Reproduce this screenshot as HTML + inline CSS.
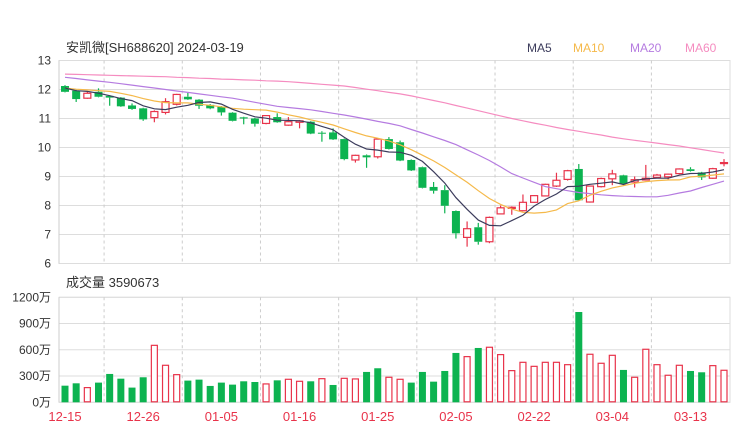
<!DOCTYPE html>
<html><head><meta charset="utf-8"><style>
body{margin:0;background:#fff;}
svg{display:block;font-family:"Liberation Sans","Noto Sans CJK SC",sans-serif;}
</style></head><body>
<svg id="c" width="740" height="440" xmlns="http://www.w3.org/2000/svg">
<text x="66" y="52" font-size="13" fill="#333">安凯微[SH688620] 2024-03-19</text>
<g font-size="12">
<text x="527" y="52" fill="#3c3c5c">MA5</text>
<text x="573" y="52" fill="#f5b94a">MA10</text>
<text x="630" y="52" fill="#b57be0">MA20</text>
<text x="685" y="52" fill="#f58cc0">MA60</text>
</g>
<text x="66" y="287" font-size="13" fill="#333">成交量 3590673</text>
</svg>
<script>
const dates=["12-15","12-26","01-05","01-16","01-25","02-05","02-22","03-04","03-13"];
const dateIdx=[0,7,14,21,28,35,42,49,56];
const opens=[12.12,11.96,11.70,11.92,11.78,11.72,11.45,11.35,11.03,11.21,11.49,11.75,11.65,11.47,11.41,11.20,11.04,11.00,10.83,11.05,10.77,10.87,10.89,10.51,10.52,10.29,9.57,9.73,9.68,10.29,10.18,9.57,9.32,8.64,8.53,7.81,6.90,7.25,6.75,7.71,7.90,7.82,8.11,8.33,8.67,8.90,9.26,8.12,8.65,8.92,9.04,8.81,8.88,8.97,8.99,9.10,9.25,9.14,8.94,9.46];
const closes=[11.92,11.67,11.87,11.75,11.72,11.42,11.33,10.97,11.24,11.58,11.83,11.66,11.44,11.35,11.21,10.92,11.00,10.82,11.10,10.87,10.89,10.92,10.48,10.48,10.28,9.60,9.73,9.66,10.29,9.95,9.55,9.21,8.61,8.51,7.99,7.04,7.20,6.75,7.59,7.92,7.94,8.11,8.34,8.73,8.87,9.20,8.18,8.67,8.93,9.09,8.75,8.89,8.94,9.05,9.08,9.26,9.19,8.97,9.27,9.48];
const highs=[12.15,11.99,11.92,12.04,11.80,11.74,11.52,11.37,11.28,11.70,11.85,11.88,11.67,11.50,11.43,11.22,11.06,11.02,11.12,11.18,11.05,10.95,10.91,10.56,10.66,10.31,9.75,9.76,10.31,10.36,10.24,9.59,9.34,8.81,8.70,7.83,7.45,7.40,7.62,8.00,7.97,8.38,8.36,8.75,9.13,9.23,9.43,8.69,8.96,9.23,9.06,9.00,9.40,9.09,9.10,9.28,9.32,9.16,9.30,9.60];
const lows=[11.90,11.57,11.68,11.73,11.44,11.40,11.30,10.92,10.87,11.14,11.45,11.64,11.33,11.32,11.10,10.90,10.80,10.72,10.80,10.85,10.75,10.66,10.46,10.20,10.26,9.56,9.48,9.30,9.62,9.93,9.53,9.19,8.59,8.41,7.73,6.86,6.58,6.65,6.70,7.70,7.68,7.80,8.09,8.31,8.64,8.86,8.16,8.10,8.62,8.70,8.73,8.62,8.86,8.95,8.90,9.08,9.17,8.88,8.92,9.35];
const priorCloses=[12.05,12.10,12.02,11.98,12.08,12.12,12.00,12.06,12.15];
const ma20=[12.42,12.38,12.33,12.29,12.25,12.20,12.15,12.10,12.05,12.00,11.95,11.90,11.85,11.80,11.75,11.70,11.63,11.56,11.49,11.42,11.38,11.34,11.30,11.24,11.18,11.12,11.05,10.98,10.90,10.83,10.75,10.62,10.50,10.37,10.24,10.10,9.92,9.74,9.55,9.33,9.10,8.95,8.80,8.65,8.58,8.51,8.45,8.41,8.37,8.34,8.32,8.31,8.30,8.30,8.35,8.43,8.50,8.62,8.73,8.84];
const ma60=[12.53,12.52,12.51,12.50,12.49,12.48,12.47,12.46,12.45,12.44,12.42,12.41,12.39,12.38,12.36,12.35,12.33,12.32,12.30,12.29,12.27,12.24,12.21,12.18,12.15,12.12,12.07,12.01,11.96,11.90,11.85,11.78,11.70,11.62,11.54,11.45,11.36,11.27,11.18,11.09,11.00,10.92,10.84,10.77,10.69,10.62,10.56,10.49,10.43,10.36,10.30,10.25,10.20,10.15,10.10,10.05,9.99,9.93,9.87,9.81];
const volumes=[190,217,168,225,324,270,168,286,651,423,316,248,259,187,225,202,240,232,210,251,263,240,240,270,198,274,267,347,389,286,263,225,347,236,358,564,522,621,629,545,362,457,411,457,457,430,1032,549,446,537,370,286,606,430,309,423,358,343,419,366];
const volUp=[0,0,1,0,0,0,0,0,1,1,1,0,0,0,0,0,0,0,1,0,1,1,0,1,0,1,1,0,0,1,1,0,0,0,0,0,1,0,1,1,1,1,1,1,1,1,0,1,1,1,0,1,1,1,1,1,0,0,1,1];
const priceTicks=[13,12,11,10,9,8,7,6];
const volTicks=[1200,900,600,300,0];

const NS="http://www.w3.org/2000/svg";
const svg=document.getElementById('c');
const L=59,R=730,PT=60.5,PB=263.5,VT=297.3,VB=402.3;
const n=closes.length;
const RED="#e8334a",GREEN="#0cb350";
function X(i){return 65+i*(724-65)/(n-1);}
function Y(p){return PT+(13-p)*(PB-PT)/7;}
function VY(v){return VB-v*(VB-VT)/1200;}
function mk(tag,at,parent){const e=document.createElementNS(NS,tag);for(const k in at)e.setAttribute(k,at[k]);(parent||svg).appendChild(e);return e;}

// frames & grids
let f1=mk('rect',{x:L,y:PT,width:R-L,height:PB-PT,fill:'none',stroke:'#ddd'});


let f2=mk('rect',{x:L,y:VT,width:R-L,height:VB-VT,fill:'none',stroke:'#ddd'});


priceTicks.forEach(t=>{
  const g=mk('line',{x1:L,x2:R,y1:Y(t),y2:Y(t),stroke:'#ddd'});
  
  
  const tx=mk('text',{x:51,y:Y(t)+4,'text-anchor':'end','font-size':12,fill:'#333'});
  tx.textContent=t;
  
  
});
volTicks.forEach(t=>{
  const g=mk('line',{x1:L,x2:R,y1:VY(t),y2:VY(t),stroke:'#ddd'});
  
  
  const tx=mk('text',{x:51,y:VY(t)+4,'text-anchor':'end','font-size':12,fill:'#333'});
  tx.textContent=t+'万';
  
  
});
mk('line',{x1:L,x2:L,y1:PT,y2:PB,stroke:'#ccc'});
mk('line',{x1:L,x2:L,y1:VT,y2:VB,stroke:'#ccc'});
dateIdx.forEach((di,k)=>{
  if(k>0){
    const xv=(X(di)+X(di-7))/2;
    [[PT,PB],[VT,VB]].forEach(r=>{
      const g=mk('line',{x1:xv,x2:xv,y1:r[0],y2:r[1],stroke:'#ccc','stroke-dasharray':'3,3'});
      
      
    });
  }
  const tx=mk('text',{x:X(di),y:421,'text-anchor':'middle','font-size':13,fill:RED});
  tx.textContent=dates[k];
  
  
});

// candles
for(let i=0;i<n;i++){
  const up=closes[i]>=opens[i];
  const col=up?RED:GREEN;
  const g=mk('g',{});
  
  
  mk('line',{x1:X(i),x2:X(i),y1:Y(highs[i]),y2:Y(Math.max(opens[i],closes[i])),stroke:col,'stroke-width':1.2},g);
  mk('line',{x1:X(i),x2:X(i),y1:Y(Math.min(opens[i],closes[i])),y2:Y(lows[i]),stroke:col,'stroke-width':1.2},g);
  const top=Y(Math.max(opens[i],closes[i])),h=Math.max(1,Y(Math.min(opens[i],closes[i]))-top);
  if(up) mk('rect',{x:X(i)-3.5,y:top,width:7,height:h,fill:'#fff',stroke:col,'stroke-width':1.2},g);
  else mk('rect',{x:X(i)-4,y:top,width:8,height:h,fill:col},g);
}
// volumes
for(let i=0;i<n;i++){
  const col=volUp[i]?RED:GREEN;
  const top=VY(volumes[i]);
  let b;
  if(volUp[i]) b=mk('rect',{x:X(i)-3,y:top,width:6,height:VB-top-0.5,fill:'#fff',stroke:col,'stroke-width':1.2});
  else b=mk('rect',{x:X(i)-3.5,y:top,width:7,height:VB-top,fill:col});
  
  
}
// moving averages
function maFrom(p){const all=priorCloses.concat(closes),off=priorCloses.length;const out=[];for(let i=0;i<n;i++){let s=0;for(let k=0;k<p;k++)s+=all[off+i-k];out.push(s/p);}return out;}
function line(vals,col,name){
  const d=vals.map((v,i)=>(i?'L':'M')+X(i).toFixed(1)+','+Y(v).toFixed(1)).join('');
  const p=mk('path',{d:d,fill:'none',stroke:col,'stroke-width':1.2});
  
  
}
line(ma60,'#f58cc0','ma60-line');
line(ma20,'#b57be0','ma20-line');
line(maFrom(10),'#f5b94a','ma10-line');
line(maFrom(5),'#3c3c5c','ma5-line');
</script>
</body></html>
